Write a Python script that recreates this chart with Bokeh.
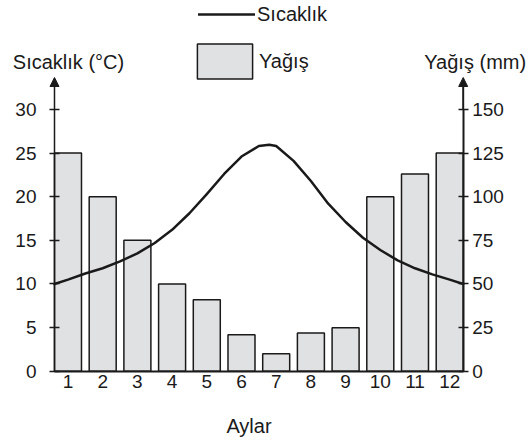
from bokeh.plotting import figure
from bokeh.models import (Range1d, LinearAxis, Label, Arrow, NormalHead, Legend,
                          LegendItem, FixedTicker)
from bokeh.embed import file_html
from bokeh.resources import INLINE

# ---- data ----
months = [1, 2, 3, 4, 5, 6, 7, 8, 9, 10, 11, 12]
month_labels = ["1", "2", "3", "4", "5", "6", "7", "8", "9", "10", "11", "12"]
precip_mm = [125, 100, 75, 50, 41, 21, 10, 22, 25, 100, 113, 125]
temp_x = [0.61, 1, 1.5, 2, 2.5, 3, 3.5, 4, 4.5, 5, 5.5, 6, 6.5, 6.8, 7, 7.5,
          8, 8.5, 9, 9.5, 10, 10.5, 11, 11.5, 12, 12.39]
temp_c = [10.0, 10.5, 11.2, 11.8, 12.6, 13.5, 14.7, 16.2, 18.1, 20.3, 22.6, 24.6,
          25.8, 25.95, 25.8, 24.1, 21.8, 19.2, 17.1, 15.3, 13.9, 12.7, 11.8, 11.1,
          10.5, 10.0]
temp_ticks = [0, 5, 10, 15, 20, 25, 30]
precip_ticks = [0, 25, 50, 75, 100, 125, 150]

FONT = "Liberation Sans"
INK = "#1a1a1a"
AX_L, AX_R = 0.611, 12.389          # month-axis positions of the two value axes
X_RANGE = (-0.945, 14.271)
Y_RANGE = (-7.81, 42.47)
RAIN_PER_DEG = 5

p = figure(width=528, height=439, x_range=Range1d(*X_RANGE), y_range=Range1d(*Y_RANGE),
           output_backend="svg", toolbar_location=None,
           min_border_left=0, min_border_right=0, min_border_top=0, min_border_bottom=0)
p.extra_y_ranges = {"rain": Range1d(Y_RANGE[0] * RAIN_PER_DEG, Y_RANGE[1] * RAIN_PER_DEG)}
p.grid.visible = False
p.outline_line_color = None
p.background_fill_color = "white"

# bars (precipitation)
r_bar = p.vbar(x=months, top=precip_mm, width=0.778, bottom=0, y_range_name="rain",
               fill_color="#e0e1e3", line_color=INK, line_width=1.5)
# temperature curve
r_line = p.line(x=temp_x, y=temp_c, line_color=INK, line_width=2.5, line_join="round",
                line_cap="round")


def style(ax, standoff):
    ax.axis_line_color = INK
    ax.major_tick_line_color = INK
    ax.major_tick_line_width = 1.5
    ax.minor_tick_line_color = None
    ax.major_label_standoff = standoff
    ax.major_label_text_font = FONT
    ax.major_label_text_font_size = "19px"
    ax.major_label_text_color = INK


# left axis (temperature)
ya = p.yaxis[0]
ya.fixed_location = AX_L
ya.ticker = FixedTicker(ticks=temp_ticks)
ya.bounds = (0, 30)
ya.axis_line_width = 1.5
ya.major_tick_in = 5
ya.major_tick_out = 5
style(ya, 13)

# right axis (precipitation)
ra = LinearAxis(y_range_name="rain", ticker=FixedTicker(ticks=precip_ticks),
                bounds=(0, 150), fixed_location=AX_R)
ra.axis_line_width = 2
ra.major_tick_in = 5
ra.major_tick_out = 5
style(ra, 4)
p.add_layout(ra, "right")

# bottom axis (months)
xa = p.xaxis[0]
xa.fixed_location = 0
xa.ticker = FixedTicker(ticks=months)
xa.bounds = (AX_L, AX_R)
xa.major_label_overrides = {m: lab for m, lab in zip(months, month_labels)}
xa.axis_line_width = 2
style(xa, -2)
xa.major_tick_line_color = None

# axis arrows
p.add_layout(Arrow(end=NormalHead(size=9, fill_color=INK, line_color=INK, line_width=1),
                   x_start=AX_L, y_start=30, x_end=AX_L, y_end=33.65,
                   line_width=1.5, line_color=INK))
p.add_layout(Arrow(end=NormalHead(size=9, fill_color=INK, line_color=INK, line_width=1),
                   x_start=AX_R, y_start=150, x_end=AX_R, y_end=33.65 * RAIN_PER_DEG,
                   y_range_name="rain", line_width=2, line_color=INK))

# axis titles
p.add_layout(Label(x=AX_L, y=35.41, x_offset=14, text="Sıcaklık (°C)", text_align="center",
                   text_baseline="middle", text_font=FONT, text_font_size="20px",
                   text_color=INK))
p.add_layout(Label(x=AX_R, y=35.41, x_offset=12, text="Yağış (mm)", text_align="center",
                   text_baseline="middle", text_font=FONT, text_font_size="20px",
                   text_color=INK))
p.add_layout(Label(x=6.216, y=-6.32, text="Aylar", text_align="center",
                   text_baseline="middle", text_font=FONT, text_font_size="20px",
                   text_color=INK))

# legends
leg1 = Legend(items=[LegendItem(label="Sıcaklık", renderers=[r_line])],
              location=(198, 412), glyph_width=57, glyph_height=26, label_height=26,
              label_standoff=2, padding=0, margin=0, spacing=0,
              border_line_color=None, background_fill_alpha=0,
              label_text_font=FONT, label_text_font_size="20px", label_text_color=INK)
leg2 = Legend(items=[LegendItem(label="Yağış", renderers=[r_bar])],
              location=(190, 356), glyph_width=69, glyph_height=44, label_height=44,
              label_standoff=0, padding=0, margin=0, spacing=0,
              border_line_color=None, background_fill_alpha=0,
              label_text_font=FONT, label_text_font_size="20px", label_text_color=INK)
p.add_layout(leg1)
p.add_layout(leg2)

open("out.html", "w").write(file_html(p, INLINE))
